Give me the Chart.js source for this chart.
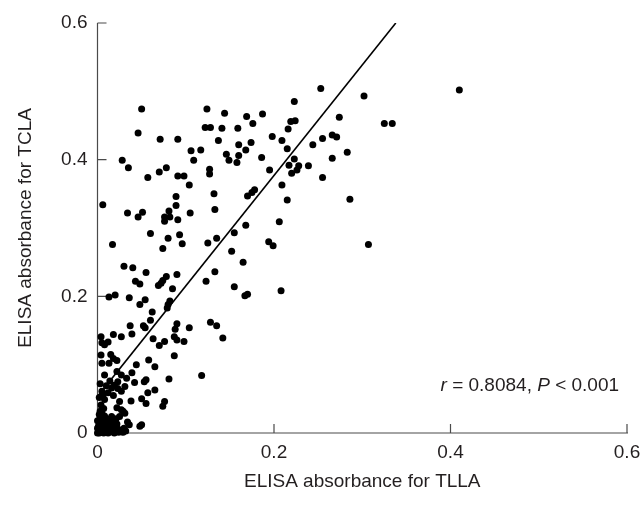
<!DOCTYPE html>
<html lang="en">
<head>
  <meta charset="UTF-8" />
  <title>TLLA vs TCLA ELISA</title>
  <script src="https://cdn.jsdelivr.net/npm/chart.js@4"></script>
  <style>
    html, body { margin: 0; padding: 0; background: #fff; }
    #wrap { width: 641px; height: 506px; }
  </style>
</head>
<body>
  <div id="wrap"><canvas id="scatter"></canvas></div>

  <script>
    // Values, grouped by region of the plot
    const upperX = [0.253,0.302,0.223,0.050,0.124,0.144,0.187,0.169,0.274,0.219,
      0.224,0.176,0.325,0.334,0.122,0.128,0.141,0.159,0.216,0.046,
      0.266,0.271,0.198,0.255,0.071,0.091,0.209,0.137,0.174,0.160,
      0.244,0.215,0.106,0.117,0.168,0.283,0.146,0.160,0.186,0.266,
      0.223,0.028,0.109,0.149,0.158,0.035,0.217,0.228,0.239,0.078,
      0.070,0.127,0.127,0.195,0.226,0.220,0.091,0.098,0.057,0.255,
      0.104,0.209,0.132,0.170,0.175,0.178,0.089,0.215,0.286,0.410];
    const upperY = [0.504,0.493,0.485,0.474,0.474,0.468,0.467,0.463,0.462,0.456,
      0.457,0.453,0.453,0.453,0.447,0.447,0.446,0.446,0.445,0.439,
      0.436,0.433,0.434,0.431,0.430,0.430,0.428,0.428,0.425,0.422,
      0.422,0.416,0.413,0.414,0.414,0.411,0.408,0.406,0.403,0.402,
      0.401,0.399,0.399,0.399,0.396,0.388,0.392,0.391,0.391,0.388,
      0.382,0.386,0.379,0.385,0.385,0.380,0.376,0.376,0.374,0.374,
      0.363,0.363,0.350,0.347,0.352,0.356,0.346,0.341,0.342,0.502];

    const middleX = [0.006,0.089,0.133,0.034,0.051,0.046,0.081,0.076,0.082,0.076,
      0.091,0.105,0.060,0.017,0.080,0.074,0.093,0.096,0.125,0.135,
      0.168,0.155,0.206,0.152,0.194,0.199,0.307,0.165,0.030,0.040,
      0.055,0.043,0.048,0.069,0.072,0.074,0.078,0.090,0.085,0.123,
      0.133,0.155,0.208,0.167,0.170,0.013,0.020,0.036];
    const middleY = [0.334,0.333,0.327,0.322,0.323,0.316,0.325,0.316,0.316,0.310,
      0.312,0.322,0.292,0.276,0.285,0.270,0.290,0.277,0.278,0.285,
      0.304,0.293,0.309,0.266,0.280,0.274,0.276,0.250,0.244,0.242,
      0.235,0.222,0.218,0.216,0.219,0.223,0.229,0.232,0.211,0.222,
      0.236,0.214,0.208,0.201,0.203,0.199,0.202,0.198];

    const lowerX = [0.054,0.048,0.082,0.080,0.079,0.062,0.060,0.052,0.054,0.037,
      0.039,0.027,0.018,0.004,0.005,0.008,0.012,0.090,0.088,0.087,
      0.090,0.098,0.104,0.063,0.070,0.076,0.128,0.135,0.142,0.087,
      0.118,0.004,0.015,0.018,0.022,0.005,0.013,0.044,0.058,0.065,
      0.008,0.022,0.027,0.023,0.033,0.039,0.055,0.053,0.081,0.042,
      0.031,0.027,0.023,0.005,0.012,0.008,0.006,0.019,0.016,0.065,
      0.057,0.050,0.055,0.038,0.076,0.074,0.025,0.022,0.029,0.031,
      0.027,0.025,0.034,0.050,0.048,0.036];
    const lowerY = [0.195,0.188,0.193,0.188,0.183,0.177,0.165,0.157,0.154,0.157,
      0.145,0.141,0.144,0.141,0.132,0.129,0.133,0.160,0.152,0.141,
      0.136,0.134,0.154,0.138,0.128,0.134,0.162,0.157,0.139,0.113,
      0.084,0.114,0.115,0.109,0.106,0.102,0.102,0.100,0.107,0.097,
      0.085,0.090,0.085,0.075,0.080,0.088,0.078,0.075,0.079,0.074,
      0.068,0.061,0.065,0.061,0.059,0.049,0.054,0.070,0.066,0.063,
      0.059,0.050,0.043,0.047,0.046,0.039,0.046,0.037,0.032,0.029,
      0.034,0.024,0.016,0.012,0.010,0.012];

    // dense pile of near-zero samples at the origin
    const originX = [0.000,0.001,0.002,0.003,0.004,0.005,0.006,0.007,0.008,0.009,
      0.010,0.011,0.012,0.013,0.014,0.015,0.016,0.017,0.018,0.019,
      0.020,0.021,0.022,0.023,0.024,0.026,0.028,0.001,0.002,0.003,
      0.004,0.006,0.007,0.008,0.010,0.012,0.014,0.016,0.019,0.021,
      0.002,0.003,0.005,0.007,0.004,0.000,0.000,0.029,0.030,0.032,
      0.003,0.010,0.014,0.002,0.018];
    const originY = [0.000,0.003,0.000,0.005,0.002,0.008,0.003,0.000,0.006,0.002,
      0.009,0.003,0.000,0.005,0.010,0.002,0.006,0.012,0.004,0.000,
      0.008,0.003,0.013,0.006,0.001,0.004,0.002,0.010,0.016,0.022,
      0.013,0.019,0.011,0.025,0.015,0.020,0.017,0.024,0.016,0.021,
      0.027,0.032,0.029,0.036,0.041,0.007,0.018,0.001,0.007,0.003,
      0.072,0.069,0.076,0.052,0.055];

    // regression line end points
    const fitX = [0, 0.338];
    const fitY = [0.0535, 0.6];

    const tickValues = [0, 0.2, 0.4, 0.6];
    const tickLabels = ['0', '0.2', '0.4', '0.6'];

    const FONT = '"Liberation Sans Narrow", "Arial Narrow", "Liberation Sans", Arial, sans-serif';
    const FONT_SIZE = 19;
    const TEXT = '#231f20';
    const AXIS = '#4a4a4a';

    const allX = [...upperX, ...middleX, ...lowerX, ...originX];
    const allY = [...upperY, ...middleY, ...lowerY, ...originY];
    const points = allX.map((x, i) => ({ x: x, y: allY[i] }));
    const fitLine = fitX.map((x, i) => ({ x: x, y: fitY[i] }));

    // axis lines with inward ticks + the r / P note
    const frame = {
      id: 'frame',
      beforeDatasetsDraw(chart) {
        const { ctx, scales: { x, y } } = chart;
        const x0 = x.getPixelForValue(0), y0 = y.getPixelForValue(0);
        ctx.save();
        ctx.strokeStyle = AXIS;
        ctx.lineWidth = 1.2;
        ctx.beginPath();
        ctx.moveTo(x0, y.getPixelForValue(0.6));
        ctx.lineTo(x0, y0);
        ctx.lineTo(x.getPixelForValue(0.6) + 1, y0);
        tickValues.slice(1).forEach(v => {
          const py = y.getPixelForValue(v);
          ctx.moveTo(x0, py); ctx.lineTo(x0 + 9, py);
          const px = x.getPixelForValue(v);
          ctx.moveTo(px, y0); ctx.lineTo(px, y0 - 9);
        });
        ctx.stroke();
        ctx.restore();
      },
      afterDatasetsDraw(chart) {
        const { ctx, scales: { x, y } } = chart;
        const parts = [
          ['italic', 'r'], ['normal', ' = 0.8084, '], ['italic', 'P'], ['normal', ' < 0.001']
        ];
        ctx.save();
        ctx.fillStyle = TEXT;
        ctx.textBaseline = 'middle';
        let total = 0;
        parts.forEach(p => {
          ctx.font = p[0] + ' ' + FONT_SIZE + 'px ' + FONT;
          total += ctx.measureText(p[1]).width;
        });
        let cx = x.getPixelForValue(0.591) - total;
        const cy = y.getPixelForValue(0.069);
        parts.forEach(p => {
          ctx.font = p[0] + ' ' + FONT_SIZE + 'px ' + FONT;
          ctx.fillText(p[1], cx, cy);
          cx += ctx.measureText(p[1]).width;
        });
        ctx.restore();
      }
    };

    Chart.defaults.font.family = FONT;
    Chart.defaults.color = TEXT;

    new Chart(document.getElementById('scatter'), {
      type: 'scatter',
      data: {
        datasets: [
          {
            label: 'Samples',
            data: points,
            backgroundColor: '#000',
            borderWidth: 0,
            pointRadius: 3.5,
            clip: false
          },
          {
            type: 'line',
            label: 'Fit',
            data: fitLine,
            borderColor: '#000',
            borderWidth: 1.6,
            pointRadius: 0,
            fill: false
          }
        ]
      },
      options: {
        responsive: true,
        maintainAspectRatio: false,
        animation: false,
        layout: { padding: { top: 23, right: 14, left: 0, bottom: 0 } },
        plugins: { legend: { display: false }, tooltip: { enabled: false } },
        scales: {
          x: {
            type: 'linear',
            min: 0, max: 0.6,
            afterFit: s => { s.height = 73; s.paddingLeft = 0; s.paddingRight = 0; },
            afterBuildTicks: s => { s.ticks = tickValues.map(v => ({ value: v })); },
            grid: { display: false, drawTicks: false },
            border: { display: false },
            ticks: {
              padding: 8,
              font: { size: FONT_SIZE },
              callback: (v) => tickLabels[tickValues.indexOf(v)]
            },
            title: {
              display: true,
              text: 'ELISA absorbance for TLLA',
              font: { size: FONT_SIZE },
              padding: { top: 0, bottom: 13 }
            }
          },
          y: {
            type: 'linear',
            min: 0, max: 0.6,
            afterFit: s => { s.width = 97.5; },
            afterBuildTicks: s => { s.ticks = tickValues.map(v => ({ value: v })); },
            grid: { display: false, drawTicks: false },
            border: { display: false },
            ticks: {
              padding: 10,
              font: { size: FONT_SIZE },
              callback: (v) => tickLabels[tickValues.indexOf(v)]
            },
            title: {
              display: true,
              text: 'ELISA absorbance for TCLA',
              font: { size: FONT_SIZE },
              padding: { top: 14, bottom: 0 }
            }
          }
        }
      },
      plugins: [frame]
    });
  </script>
</body>
</html>
